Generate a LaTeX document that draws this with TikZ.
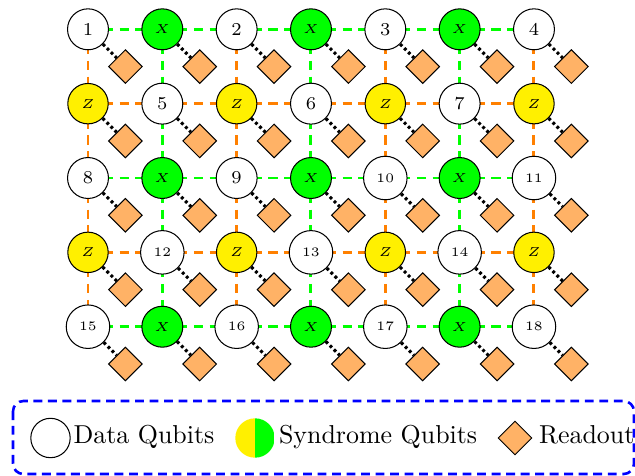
\documentclass[tikz,border=0pt]{standalone}
\usetikzlibrary{shapes.geometric}

\definecolor{synX}{RGB}{0,255,0}
\definecolor{synZ}{RGB}{255,240,0}
\definecolor{zline}{RGB}{255,128,0}
\definecolor{ropeach}{RGB}{255,178,102}

\pgfdeclarelayer{links}
\pgfsetlayers{links,main}

\begin{document}
\begin{tikzpicture}[x=0.386pt,y=-0.386pt,
  qbase/.style={circle, draw=black, line width=0.4pt, inner sep=0pt},
  dataq/.style={qbase, fill=white, minimum size=15.8pt, font=\scriptsize},
  dataqs/.style={qbase, fill=white, minimum size=16.8pt, font=\tiny},
  xsyn/.style={qbase, fill=synX, minimum size=15.8pt, font=\tiny},
  zsyn/.style={qbase, fill=synZ, minimum size=15.6pt, font=\tiny},
  readout/.style={diamond, draw=black, line width=0.4pt, fill=ropeach,
                  minimum size=13.1pt, inner sep=0pt},
  xlink/.style={draw=synX, line width=1.15pt, dash pattern=on 3.6pt off 2.5pt},
  zlink/.style={draw=zline, line width=1.15pt, dash pattern=on 3.6pt off 2.5pt},
  rolink/.style={draw=black, line width=1.2pt, dash pattern=on 1.1pt off 1.1pt},
  legtext/.style={anchor=base west, inner sep=0pt, font=\normalsize},
]
\useasboundingbox (0,0) rectangle (635,475);

% qubit lattice: data qubits and X/Z syndrome qubits, each with its readout
\foreach \r/\c/\kind/\lab in {
  0/0/dataq/1, 0/1/xsyn/$X$, 0/2/dataq/2, 0/3/xsyn/$X$, 0/4/dataq/3, 0/5/xsyn/$X$, 0/6/dataq/4,
  1/0/zsyn/$Z$, 1/1/dataq/5, 1/2/zsyn/$Z$, 1/3/dataq/6, 1/4/zsyn/$Z$, 1/5/dataq/7, 1/6/zsyn/$Z$,
  2/0/dataq/8, 2/1/xsyn/$X$, 2/2/dataq/9, 2/3/xsyn/$X$, 2/4/dataqs/10, 2/5/xsyn/$X$, 2/6/dataqs/11,
  3/0/zsyn/$Z$, 3/1/dataqs/12, 3/2/zsyn/$Z$, 3/3/dataqs/13, 3/4/zsyn/$Z$, 3/5/dataqs/14, 3/6/zsyn/$Z$,
  4/0/dataqs/15, 4/1/xsyn/$X$, 4/2/dataqs/16, 4/3/xsyn/$X$, 4/4/dataqs/17, 4/5/xsyn/$X$, 4/6/dataqs/18}
{
  \node[\kind] (q-\r-\c) at ({88+74.33*\c},{29.3+74.35*\r}) {\lab};
  \node[readout] (m-\r-\c) at ({125.4+74.33*\c},{66.6+74.35*\r}) {};
  \draw[rolink] (q-\r-\c) -- (m-\r-\c);
}

% couplings, drawn centre to centre underneath the qubits
\begin{pgfonlayer}{links}
  \foreach \r in {0,2,4}
    \foreach \c [count=\n from 1] in {0,...,5}
      \draw[xlink] (q-\r-\c.center) -- (q-\r-\n.center);
  \foreach \r in {1,3}
    \foreach \c [count=\n from 1] in {0,...,5}
      \draw[zlink] (q-\r-\c.center) -- (q-\r-\n.center);
  \foreach \c in {1,3,5}
    \foreach \r [count=\n from 1] in {0,...,3}
      \draw[xlink] (q-\r-\c.center) -- (q-\n-\c.center);
  \foreach \c in {0,2,4,6}
    \foreach \r [count=\n from 1] in {0,...,3}
      \draw[zlink] (q-\r-\c.center) -- (q-\n-\c.center);
\end{pgfonlayer}

% legend
\draw[blue, line width=1pt, dash pattern=on 3.4pt off 2.2pt, rounded corners=4pt]
  (13,401) rectangle (634,474);
\node[qbase, minimum size=15.2pt] (legdata) at (50.5,438) {};
\node[legtext] (legdatatxt) at (73,443.5) {Data Qubits};
\node[circle, minimum size=15.2pt, inner sep=0pt,
      path picture={
        \fill[synZ] (path picture bounding box.south west) rectangle (path picture bounding box.north);
        \fill[synX] (path picture bounding box.south) rectangle (path picture bounding box.north east);
      }] (legsyn) at (255,438) {};
\node[legtext] (legsyntxt) at (278.5,443.5) {Syndrome Qubits};
\node[readout] (legro) at (515,438) {};
\node[legtext] (legrotxt) at (538.5,443.5) {Readout};
\end{tikzpicture}
\end{document}
